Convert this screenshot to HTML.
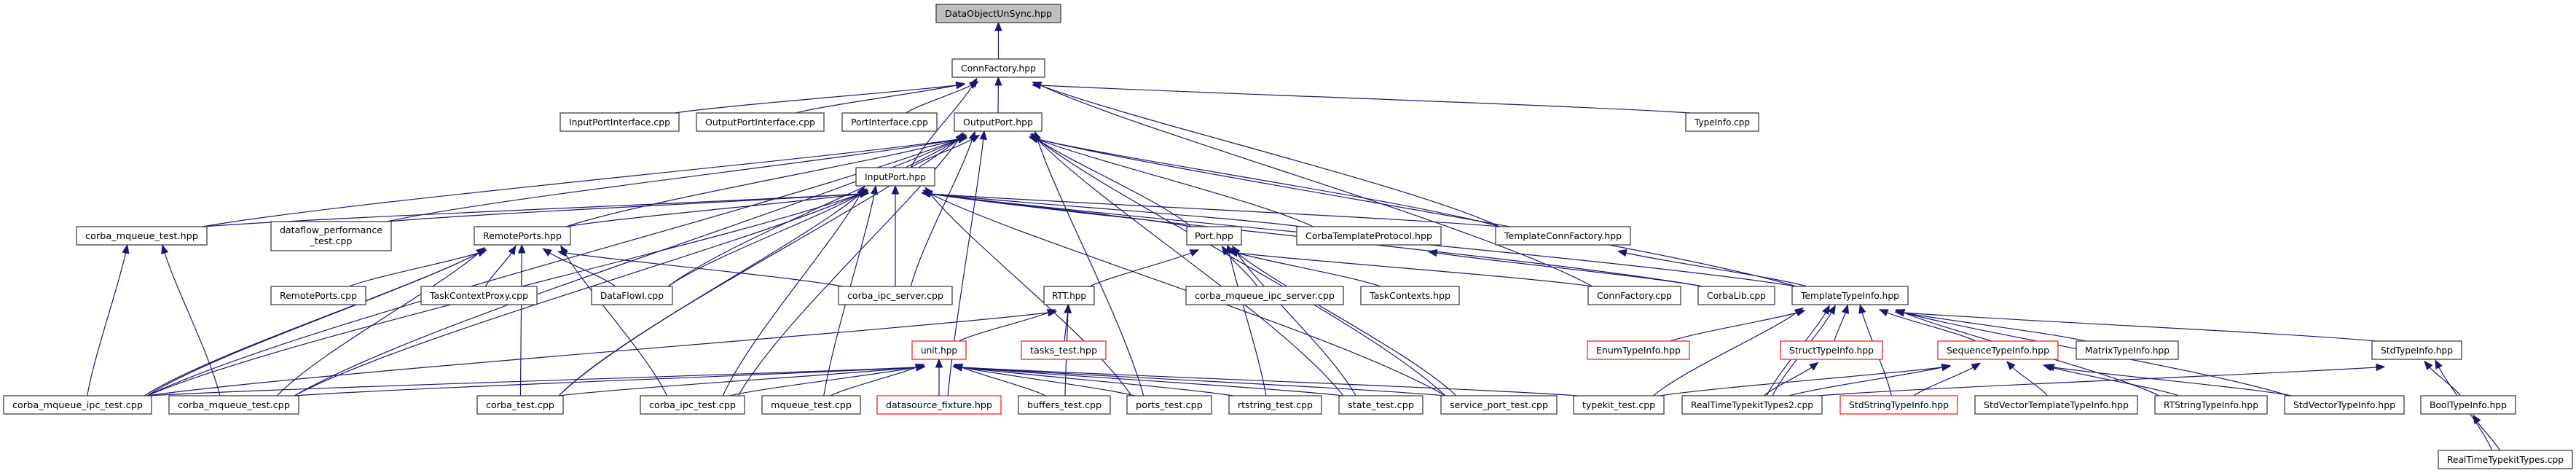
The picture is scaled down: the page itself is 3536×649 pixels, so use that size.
<!DOCTYPE html>
<html><head><meta charset="utf-8"><style>
html,body{margin:0;padding:0;background:#fff;}
svg{display:block;}
text{font-family:"DejaVu Sans","Liberation Sans",sans-serif;font-size:12.5px;fill:#000;}
</style></head><body>
<svg id="g" xmlns="http://www.w3.org/2000/svg" width="3536" height="649" viewBox="0 0 3536 649">
<rect x="0" y="0" width="3536" height="649" fill="#fff"/>
<g id="edges" fill="none" stroke="#191970" stroke-width="1.2"></g>
<g id="arrows" fill="#191970" stroke="#191970" stroke-width="1"></g>
<g id="nodes" stroke-width="1.3">
<rect x="1285" y="6" width="171" height="25" fill="#bfbfbf" stroke="#404040"/><text x="1370.5" y="23" text-anchor="middle" textLength="147" lengthAdjust="spacingAndGlyphs">DataObjectUnSync.hpp</text>
<rect x="1307" y="81" width="127" height="25" fill="#fff" stroke="#404040"/><text x="1370.5" y="98" text-anchor="middle" textLength="103" lengthAdjust="spacingAndGlyphs">ConnFactory.hpp</text>
<rect x="769" y="155" width="163" height="25" fill="#fff" stroke="#404040"/><text x="850.5" y="172" text-anchor="middle" textLength="139" lengthAdjust="spacingAndGlyphs">InputPortInterface.cpp</text>
<rect x="956" y="155" width="175" height="25" fill="#fff" stroke="#404040"/><text x="1043.5" y="172" text-anchor="middle" textLength="151" lengthAdjust="spacingAndGlyphs">OutputPortInterface.cpp</text>
<rect x="1156" y="155" width="130" height="25" fill="#fff" stroke="#404040"/><text x="1221" y="172" text-anchor="middle" textLength="106" lengthAdjust="spacingAndGlyphs">PortInterface.cpp</text>
<rect x="1310" y="155" width="120" height="25" fill="#fff" stroke="#404040"/><text x="1370" y="172" text-anchor="middle" textLength="96" lengthAdjust="spacingAndGlyphs">OutputPort.hpp</text>
<rect x="2314" y="155" width="100" height="25" fill="#fff" stroke="#404040"/><text x="2364" y="172" text-anchor="middle" textLength="76" lengthAdjust="spacingAndGlyphs">TypeInfo.cpp</text>
<rect x="1175" y="230" width="108" height="25" fill="#fff" stroke="#404040"/><text x="1229" y="247" text-anchor="middle" textLength="84" lengthAdjust="spacingAndGlyphs">InputPort.hpp</text>
<rect x="105" y="311" width="179" height="25" fill="#fff" stroke="#404040"/><text x="194.5" y="328" text-anchor="middle" textLength="155" lengthAdjust="spacingAndGlyphs">corba_mqueue_test.hpp</text>
<rect x="372" y="304" width="165" height="40" fill="#fff" stroke="#404040"/><text x="454.5" y="320" text-anchor="middle" textLength="141" lengthAdjust="spacingAndGlyphs">dataflow_performance</text><text x="454.5" y="335" text-anchor="middle" textLength="58" lengthAdjust="spacingAndGlyphs">_test.cpp</text>
<rect x="651" y="311" width="132" height="25" fill="#fff" stroke="#404040"/><text x="717" y="328" text-anchor="middle" textLength="108" lengthAdjust="spacingAndGlyphs">RemotePorts.hpp</text>
<rect x="1629" y="311" width="75" height="25" fill="#fff" stroke="#404040"/><text x="1666.5" y="328" text-anchor="middle" textLength="53" lengthAdjust="spacingAndGlyphs">Port.hpp</text>
<rect x="1780" y="311" width="198" height="25" fill="#fff" stroke="#404040"/><text x="1879" y="328" text-anchor="middle" textLength="174" lengthAdjust="spacingAndGlyphs">CorbaTemplateProtocol.hpp</text>
<rect x="2053" y="311" width="185" height="25" fill="#fff" stroke="#404040"/><text x="2145.5" y="328" text-anchor="middle" textLength="161" lengthAdjust="spacingAndGlyphs">TemplateConnFactory.hpp</text>
<rect x="372" y="393" width="130" height="25" fill="#fff" stroke="#404040"/><text x="437" y="410" text-anchor="middle" textLength="106" lengthAdjust="spacingAndGlyphs">RemotePorts.cpp</text>
<rect x="578" y="393" width="159" height="25" fill="#fff" stroke="#404040"/><text x="657.5" y="410" text-anchor="middle" textLength="135" lengthAdjust="spacingAndGlyphs">TaskContextProxy.cpp</text>
<rect x="812" y="393" width="111" height="25" fill="#fff" stroke="#404040"/><text x="867.5" y="410" text-anchor="middle" textLength="87" lengthAdjust="spacingAndGlyphs">DataFlowI.cpp</text>
<rect x="1151" y="393" width="156" height="25" fill="#fff" stroke="#404040"/><text x="1229" y="410" text-anchor="middle" textLength="132" lengthAdjust="spacingAndGlyphs">corba_ipc_server.cpp</text>
<rect x="1433" y="393" width="69" height="25" fill="#fff" stroke="#404040"/><text x="1467.5" y="410" text-anchor="middle" textLength="47" lengthAdjust="spacingAndGlyphs">RTT.hpp</text>
<rect x="1628" y="393" width="216" height="25" fill="#fff" stroke="#404040"/><text x="1736" y="410" text-anchor="middle" textLength="192" lengthAdjust="spacingAndGlyphs">corba_mqueue_ipc_server.cpp</text>
<rect x="1868" y="393" width="135" height="25" fill="#fff" stroke="#404040"/><text x="1935.5" y="410" text-anchor="middle" textLength="111" lengthAdjust="spacingAndGlyphs">TaskContexts.hpp</text>
<rect x="2180" y="393" width="127" height="25" fill="#fff" stroke="#404040"/><text x="2243.5" y="410" text-anchor="middle" textLength="103" lengthAdjust="spacingAndGlyphs">ConnFactory.cpp</text>
<rect x="2331" y="393" width="105" height="25" fill="#fff" stroke="#404040"/><text x="2383.5" y="410" text-anchor="middle" textLength="81" lengthAdjust="spacingAndGlyphs">CorbaLib.cpp</text>
<rect x="2460" y="393" width="159" height="25" fill="#fff" stroke="#404040"/><text x="2539.5" y="410" text-anchor="middle" textLength="135" lengthAdjust="spacingAndGlyphs">TemplateTypeInfo.hpp</text>
<rect x="1252" y="468" width="74" height="25" fill="#fff" stroke="#ff2020"/><text x="1289" y="485" text-anchor="middle" textLength="50" lengthAdjust="spacingAndGlyphs">unit.hpp</text>
<rect x="1402" y="468" width="116" height="25" fill="#fff" stroke="#ff2020"/><text x="1460" y="485" text-anchor="middle" textLength="92" lengthAdjust="spacingAndGlyphs">tasks_test.hpp</text>
<rect x="2179" y="468" width="140" height="25" fill="#fff" stroke="#ff2020"/><text x="2249" y="485" text-anchor="middle" textLength="116" lengthAdjust="spacingAndGlyphs">EnumTypeInfo.hpp</text>
<rect x="2444" y="468" width="140" height="25" fill="#fff" stroke="#ff2020"/><text x="2514" y="485" text-anchor="middle" textLength="116" lengthAdjust="spacingAndGlyphs">StructTypeInfo.hpp</text>
<rect x="2660" y="468" width="165" height="25" fill="#fff" stroke="#ff2020"/><text x="2742.5" y="485" text-anchor="middle" textLength="141" lengthAdjust="spacingAndGlyphs">SequenceTypeInfo.hpp</text>
<rect x="2850" y="468" width="140" height="25" fill="#fff" stroke="#404040"/><text x="2920" y="485" text-anchor="middle" textLength="116" lengthAdjust="spacingAndGlyphs">MatrixTypeInfo.hpp</text>
<rect x="3256" y="468" width="123" height="25" fill="#fff" stroke="#404040"/><text x="3317.5" y="485" text-anchor="middle" textLength="99" lengthAdjust="spacingAndGlyphs">StdTypeInfo.hpp</text>
<rect x="5" y="543" width="203" height="25" fill="#fff" stroke="#404040"/><text x="106.5" y="560" text-anchor="middle" textLength="179" lengthAdjust="spacingAndGlyphs">corba_mqueue_ipc_test.cpp</text>
<rect x="232" y="543" width="178" height="25" fill="#fff" stroke="#404040"/><text x="321" y="560" text-anchor="middle" textLength="154" lengthAdjust="spacingAndGlyphs">corba_mqueue_test.cpp</text>
<rect x="655" y="543" width="118" height="25" fill="#fff" stroke="#404040"/><text x="714" y="560" text-anchor="middle" textLength="94" lengthAdjust="spacingAndGlyphs">corba_test.cpp</text>
<rect x="879" y="543" width="143" height="25" fill="#fff" stroke="#404040"/><text x="950.5" y="560" text-anchor="middle" textLength="119" lengthAdjust="spacingAndGlyphs">corba_ipc_test.cpp</text>
<rect x="1046" y="543" width="135" height="25" fill="#fff" stroke="#404040"/><text x="1113.5" y="560" text-anchor="middle" textLength="111" lengthAdjust="spacingAndGlyphs">mqueue_test.cpp</text>
<rect x="1204" y="543" width="170" height="25" fill="#fff" stroke="#ff2020"/><text x="1289" y="560" text-anchor="middle" textLength="146" lengthAdjust="spacingAndGlyphs">datasource_fixture.hpp</text>
<rect x="1398" y="543" width="126" height="25" fill="#fff" stroke="#404040"/><text x="1461" y="560" text-anchor="middle" textLength="102" lengthAdjust="spacingAndGlyphs">buffers_test.cpp</text>
<rect x="1547" y="543" width="116" height="25" fill="#fff" stroke="#404040"/><text x="1605" y="560" text-anchor="middle" textLength="92" lengthAdjust="spacingAndGlyphs">ports_test.cpp</text>
<rect x="1687" y="543" width="127" height="25" fill="#fff" stroke="#404040"/><text x="1750.5" y="560" text-anchor="middle" textLength="103" lengthAdjust="spacingAndGlyphs">rtstring_test.cpp</text>
<rect x="1838" y="543" width="115" height="25" fill="#fff" stroke="#404040"/><text x="1895.5" y="560" text-anchor="middle" textLength="91" lengthAdjust="spacingAndGlyphs">state_test.cpp</text>
<rect x="1978" y="543" width="159" height="25" fill="#fff" stroke="#404040"/><text x="2057.5" y="560" text-anchor="middle" textLength="135" lengthAdjust="spacingAndGlyphs">service_port_test.cpp</text>
<rect x="2160" y="543" width="124" height="25" fill="#fff" stroke="#404040"/><text x="2222" y="560" text-anchor="middle" textLength="100" lengthAdjust="spacingAndGlyphs">typekit_test.cpp</text>
<rect x="2309" y="543" width="192" height="25" fill="#fff" stroke="#404040"/><text x="2405" y="560" text-anchor="middle" textLength="168" lengthAdjust="spacingAndGlyphs">RealTimeTypekitTypes2.cpp</text>
<rect x="2526" y="543" width="161" height="25" fill="#fff" stroke="#ff2020"/><text x="2606.5" y="560" text-anchor="middle" textLength="137" lengthAdjust="spacingAndGlyphs">StdStringTypeInfo.hpp</text>
<rect x="2711" y="543" width="223" height="25" fill="#fff" stroke="#404040"/><text x="2822.5" y="560" text-anchor="middle" textLength="199" lengthAdjust="spacingAndGlyphs">StdVectorTemplateTypeInfo.hpp</text>
<rect x="2958" y="543" width="154" height="25" fill="#fff" stroke="#404040"/><text x="3035" y="560" text-anchor="middle" textLength="130" lengthAdjust="spacingAndGlyphs">RTStringTypeInfo.hpp</text>
<rect x="3136" y="543" width="164" height="25" fill="#fff" stroke="#404040"/><text x="3218" y="560" text-anchor="middle" textLength="140" lengthAdjust="spacingAndGlyphs">StdVectorTypeInfo.hpp</text>
<rect x="3323" y="543" width="130" height="25" fill="#fff" stroke="#404040"/><text x="3388" y="560" text-anchor="middle" textLength="106" lengthAdjust="spacingAndGlyphs">BoolTypeInfo.hpp</text>
<rect x="3347" y="618" width="184" height="25" fill="#fff" stroke="#404040"/><text x="3439" y="635" text-anchor="middle" textLength="160" lengthAdjust="spacingAndGlyphs">RealTimeTypekitTypes.cpp</text>
</g>
</svg>
<script>
var R=[6,81,155,230,311,393,468,543,618];
function n(a,b,r){return [a,b,R[r],R[r]+25];}
var N={
DOU:n(1285,1456,0),CFH:n(1307,1434,1),IPI:n(769,932,2),OPI:n(956,1131,2),PI:n(1156,1286,2),OP:n(1310,1430,2),TI:n(2314,2414,2),
IP:n(1175,1283,3),CMTH:n(105,284,4),DPT:[372,537,304,344],RPH:n(651,783,4),PH:n(1629,1704,4),CTP:n(1780,1978,4),TCF:n(2053,2238,4),
RPC:n(372,502,5),TCP:n(578,737,5),DFI:n(812,923,5),CIS:n(1151,1307,5),RTT:n(1433,1502,5),CMIS:n(1628,1844,5),TCX:n(1868,2003,5),CFC:n(2180,2307,5),CL:n(2331,2436,5),TTI:n(2460,2619,5),
UNIT:n(1252,1326,6),TT:n(1402,1518,6),ETI:n(2179,2319,6),STI:n(2444,2584,6),SEQ:n(2660,2825,6),MTI:n(2850,2990,6),STD:n(3256,3379,6),
CMIT:n(5,208,7),CMT:n(232,410,7),CT:n(655,773,7),CIT:n(879,1022,7),MT:n(1046,1181,7),DSF:n(1204,1374,7),BT:n(1398,1524,7),PT:n(1547,1663,7),RST:n(1687,1814,7),ST:n(1838,1953,7),SPT:n(1978,2137,7),TKT:n(2160,2284,7),RTK2:n(2309,2501,7),SSTI:n(2526,2687,7),SVTTI:n(2711,2934,7),RTSTI:n(2958,3112,7),SVTI:n(3136,3300,7),BTI:n(3323,3453,7),RTK:n(3347,3531,8)};
var E=[
["CFH","DOU"],["IPI","CFH"],["OPI","CFH"],["PI","CFH"],["OP","CFH"],["TI","CFH"],["TCF","CFH"],["CFC","CFH"],["IP","CFH"],
["IP","OP"],["CMTH","OP"],["CMIT","OP"],["DPT","OP"],["RPH","OP"],["DFI","OP"],["CT","OP"],["CIS","OP"],["CIT","OP"],["DSF","OP"],["PT","OP"],["PH","OP"],["CTP","OP"],["TCF","OP"],["TTI","OP"],["ST","OP"],["SPT","OP"],["CMT","OP"],
["CMTH","IP"],["DPT","IP"],["RPH","IP"],["DFI","IP"],["CIS","IP"],["CT","IP"],["CIT","IP"],["MT","IP"],["PT","IP"],["SPT","IP"],["PH","IP"],["CTP","IP"],["TCF","IP"],["CL","IP"],["TTI","IP"],["CMIT","IP"],["CMT","IP"],
["CMIT","RPH"],["RPC","RPH"],["TCP","RPH"],["DFI","RPH"],["CT","RPH"],["CIT","RPH"],["CIS","RPH"],["CMT","RPH"],["CMIT","RPH"],
["CMIT","CMTH"],["CMT","CMTH"],
["RTT","PH"],["CMIS","PH"],["TCX","PH"],["CFC","PH"],["RST","PH"],["ST","PH"],["SPT","PH"],
["UNIT","RTT"],["TT","RTT"],["BT","RTT"],["CMIT","RTT"],
["CMIT","UNIT"],["CMT","UNIT"],["CT","UNIT"],["CIT","UNIT"],["MT","UNIT"],["DSF","UNIT"],["BT","UNIT"],["PT","UNIT"],["RST","UNIT"],["ST","UNIT"],["SPT","UNIT"],["TKT","UNIT"],
["CL","CTP"],["TTI","TCF"],
["ETI","TTI"],["TKT","TTI"],["RTK2","TTI"],["RTK2","TTI"],["STI","TTI"],["SSTI","TTI"],["SEQ","TTI"],["MTI","TTI"],["RTSTI","TTI"],["SVTI","TTI"],["STD","TTI"],
["RTK2","STI"],["TKT","SEQ"],["RTK2","SEQ"],["SSTI","SEQ"],["SVTTI","SEQ"],["RTSTI","SEQ"],["SVTI","SEQ"],
["RTK2","STD"],["BTI","STD"],["RTK","STD"],["RTK","BTI"]];
var ns="http://www.w3.org/2000/svg",eg=document.getElementById("edges"),ag=document.getElementById("arrows");
var cnt={};
function clamp(v,a,b){return Math.max(a,Math.min(b,v));}
E.forEach(function(e){
 var c=N[e[0]],p=N[e[1]];
 var key=e.join("-");cnt[key]=(cnt[key]||0)+1;var off=(cnt[key]-1)*8;
 var cc=(c[0]+c[1])/2,pc=(p[0]+p[1])/2;
 var sx=clamp(cc+(pc-cc)*0.15+off,c[0]+6,c[1]-6),sy=c[2];
 var ex=clamp(pc+(cc-pc)*0.25+off,p[0]+6,p[1]-6),ey=p[3]+11;
 var dy=sy-ey,dx0=ex-sx;
 var c1x=sx+dx0*0.2,c1y=sy-dy*0.3,c2x=sx+dx0*0.8,c2y=ey+dy*0.25;
 var path=document.createElementNS(ns,"path");
 path.setAttribute("d","M"+sx+","+sy+" C"+c1x+","+c1y+" "+c2x+","+c2y+" "+ex+","+ey);
 eg.appendChild(path);
 var dx=ex-c2x,dyy=ey-c2y,l=Math.sqrt(dx*dx+dyy*dyy)||1;dx/=l;dyy/=l;
 var tx=ex+dx*11,ty=ey+dyy*11;
 var px=-dyy,py=dx;
 var poly=document.createElementNS(ns,"polygon");
 poly.setAttribute("points",tx+","+ty+" "+(ex+px*4.5)+","+(ey+py*4.5)+" "+(ex-px*4.5)+","+(ey-py*4.5));
 ag.appendChild(poly);
});
</script>
</body></html>
